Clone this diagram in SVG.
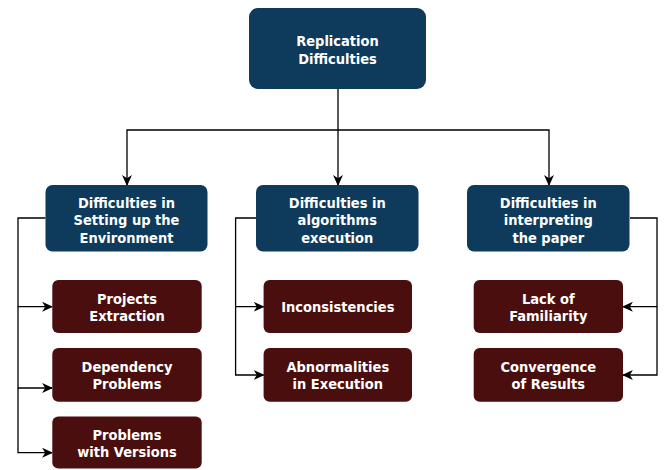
<svg xmlns="http://www.w3.org/2000/svg" width="665" height="470" viewBox="0 0 665 470">
  <defs>
    <marker id="arrow" viewBox="0 0 10 10" refX="9" refY="5" markerWidth="11" markerHeight="11" markerUnits="userSpaceOnUse" orient="auto">
      <path d="M0,0.5 L10,5 L0,9.5 L2.8,5 Z" fill="#000"/>
    </marker>
    <style>
      .top { fill: #0e3a5c; }
      .sub { fill: #4b0e0e; }
      .lbl { font-family: "DejaVu Sans Condensed", "DejaVu Sans", sans-serif; font-weight: bold; font-size: 14.5px; fill: #ffffff; text-anchor: middle; }
      .wire { fill: none; stroke: #000; stroke-width: 1.3; marker-end: url(#arrow); }
    </style>
  </defs>
  <rect width="665" height="470" fill="#ffffff"/>

  <g id="connectors">
    <path class="wire" d="M338,89 V130 H127 V185"/>
    <path class="wire" d="M338,130 V185"/>
    <path class="wire" d="M338,130 H549 V185"/>

    <path class="wire" d="M45.5,218 H18 V306.7 H52"/>
    <path class="wire" d="M18,306.7 V388 H52"/>
    <path class="wire" d="M18,388 V452.7 H52"/>

    <path class="wire" d="M256,218 H235.6 V306.7 H263.6"/>
    <path class="wire" d="M235.6,306.7 V375 H263.6"/>

    <path class="wire" d="M630,218 H657 V306.7 H623"/>
    <path class="wire" d="M657,306.7 V375 H623"/>
  </g>

  <g id="replication-difficulties">
    <rect class="top" x="249" y="8" width="177" height="81" rx="9"/>
    <text class="lbl" x="337.5" y="45.5">Replication</text>
    <text class="lbl" x="337.5" y="63.5">Difficulties</text>
  </g>

  <g id="setting-up-environment">
    <rect class="top" x="45.5" y="185" width="162" height="66.5" rx="7"/>
    <text class="lbl" x="126.5" y="207.5">Difficulties in</text>
    <text class="lbl" x="126.5" y="225">Setting up the</text>
    <text class="lbl" x="126.5" y="242.5">Environment</text>
  </g>

  <g id="algorithms-execution">
    <rect class="top" x="256" y="185" width="162.5" height="66.5" rx="7"/>
    <text class="lbl" x="337.3" y="207.5">Difficulties in</text>
    <text class="lbl" x="337.3" y="225">algorithms</text>
    <text class="lbl" x="337.3" y="242.5">execution</text>
  </g>

  <g id="interpreting-paper">
    <rect class="top" x="467" y="185" width="162.5" height="66.5" rx="7"/>
    <text class="lbl" x="548.3" y="207.5">Difficulties in</text>
    <text class="lbl" x="548.3" y="225">interpreting</text>
    <text class="lbl" x="548.3" y="242.5">the paper</text>
  </g>

  <g id="projects-extraction">
    <rect class="sub" x="52.3" y="280" width="149.4" height="53" rx="6"/>
    <text class="lbl" x="127" y="303.5">Projects</text>
    <text class="lbl" x="127" y="320.5">Extraction</text>
  </g>

  <g id="dependency-problems">
    <rect class="sub" x="52.3" y="348" width="149.4" height="53.7" rx="6"/>
    <text class="lbl" x="127" y="372">Dependency</text>
    <text class="lbl" x="127" y="389">Problems</text>
  </g>

  <g id="problems-with-versions">
    <rect class="sub" x="52.3" y="416.5" width="149.4" height="52" rx="6"/>
    <text class="lbl" x="127" y="439.5">Problems</text>
    <text class="lbl" x="127" y="456.5">with Versions</text>
  </g>

  <g id="inconsistencies">
    <rect class="sub" x="263.6" y="280" width="148.4" height="53" rx="6"/>
    <text class="lbl" x="337.8" y="312">Inconsistencies</text>
  </g>

  <g id="abnormalities-in-execution">
    <rect class="sub" x="263.6" y="348" width="148.4" height="53.7" rx="6"/>
    <text class="lbl" x="337.8" y="372">Abnormalities</text>
    <text class="lbl" x="337.8" y="389">in Execution</text>
  </g>

  <g id="lack-of-familiarity">
    <rect class="sub" x="473.7" y="280" width="149.3" height="53" rx="6"/>
    <text class="lbl" x="548.3" y="303.5">Lack of</text>
    <text class="lbl" x="548.3" y="320.5">Familiarity</text>
  </g>

  <g id="convergence-of-results">
    <rect class="sub" x="473.7" y="348" width="149.3" height="53.7" rx="6"/>
    <text class="lbl" x="548.3" y="372">Convergence</text>
    <text class="lbl" x="548.3" y="389">of Results</text>
  </g>
</svg>
